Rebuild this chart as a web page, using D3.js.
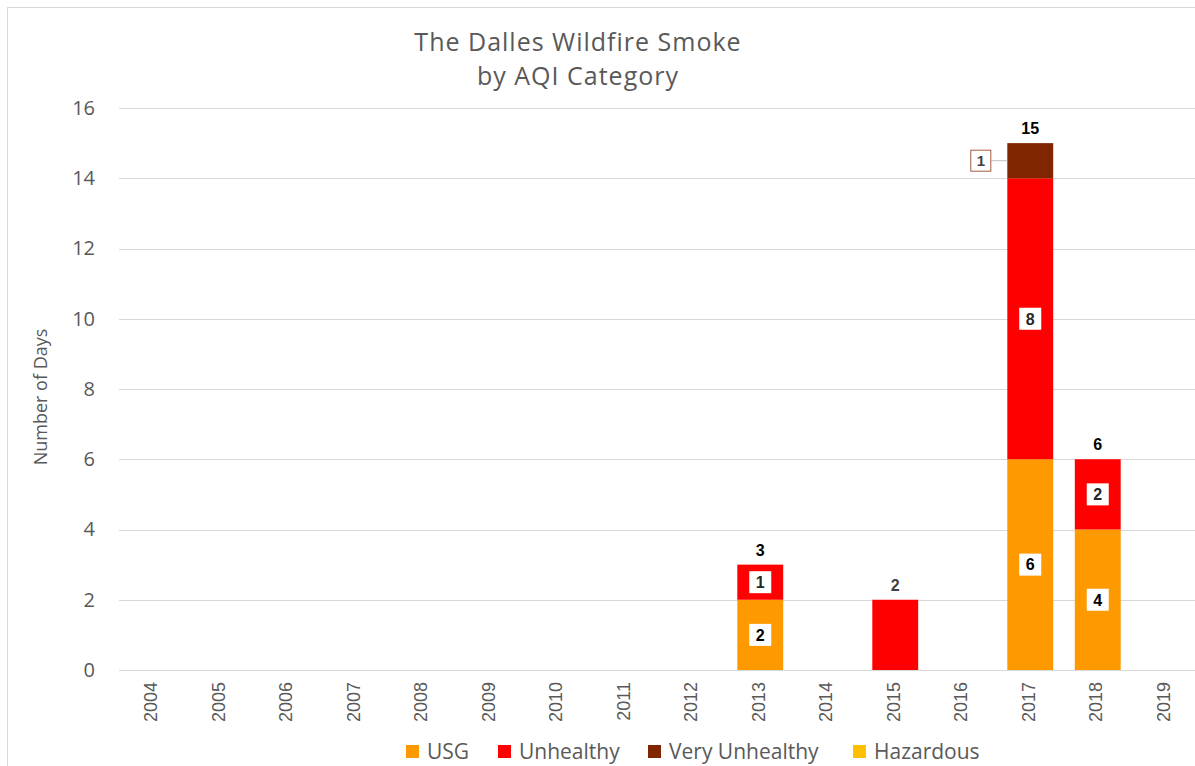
<!DOCTYPE html>
<html>
<head>
<meta charset="utf-8">
<script src="https://cdn.jsdelivr.net/npm/d3@7"></script>
<style>
  body { margin: 0; background: #fff; }
  svg { display: block; }
</style>
</head>
<body>
<script>
// data
var years = ["2004","2005","2006","2007","2008","2009","2010","2011","2012","2013","2014","2015","2016","2017","2018","2019"];
var categories = ["USG", "Unhealthy", "Very Unhealthy", "Hazardous"];
var usg           = [0,0,0,0,0,0,0,0,0,2,0,0,0,6,4,0];
var unhealthy     = [0,0,0,0,0,0,0,0,0,1,0,2,0,8,2,0];
var veryUnhealthy = [0,0,0,0,0,0,0,0,0,0,0,0,0,1,0,0];
var hazardous     = [0,0,0,0,0,0,0,0,0,0,0,0,0,0,0,0];
var yTicks = [0,2,4,6,8,10,12,14,16];
var colors = ["#ff9900", "#ff0000", "#7f2600", "#ffc000"];

var W = 1195, H = 766;
var margin = {top: 108, right: -4, bottom: 96, left: 119};

var rows = years.map((y, i) => ({
    year: y,
    "USG": usg[i],
    "Unhealthy": unhealthy[i],
    "Very Unhealthy": veryUnhealthy[i],
    "Hazardous": hazardous[i]
}));

var svg = d3.select("body").append("svg")
    .attr("width", W)
    .attr("height", H)
    .style("font-family", "'Open Sans', sans-serif");

// chart border
svg.append("rect")
    .attr("x", 7.5).attr("y", 7.5)
    .attr("width", W + 20).attr("height", H + 20)
    .attr("fill", "none")
    .attr("stroke", "#d9d9d9");

var x = d3.scaleBand()
    .domain(years)
    .range([margin.left, W - margin.right])
    .paddingInner(0.32)
    .paddingOuter(0.16);

var y = d3.scaleLinear()
    .domain([0, 16])
    .range([H - margin.bottom, margin.top]);

// gridlines
svg.append("g")
    .selectAll("line")
    .data(yTicks)
    .enter().append("line")
    .attr("x1", margin.left)
    .attr("x2", W - margin.right)
    .attr("y1", d => Math.round(y(d)) + 0.5)
    .attr("y2", d => Math.round(y(d)) + 0.5)
    .attr("stroke", "#d9d9d9")
    .attr("stroke-width", 1);

// y axis labels
var yAxis = svg.append("g")
    .attr("transform", `translate(${margin.left - 24},0)`)
    .call(d3.axisLeft(y).tickValues(yTicks).tickSize(0).tickPadding(0))
    .attr("font-size", 20)
    .attr("font-family", "'Open Sans', sans-serif");
yAxis.select(".domain").remove();
yAxis.selectAll("text")
    .attr("fill", "#595959");

// x axis labels
var xAxis = svg.append("g")
    .attr("transform", `translate(0,${H - margin.bottom})`)
    .call(d3.axisBottom(x).tickSize(0))
    .attr("font-size", 18)
    .attr("font-family", "'Liberation Sans', Arial, sans-serif");
xAxis.select(".domain").remove();
xAxis.selectAll("text")
    .attr("fill", "#595959")
    .attr("text-anchor", "end")
    .attr("dy", "0.35em")
    .attr("transform", "translate(-2,12) rotate(-90)")
    .attr("x", 0).attr("y", 0);

// stacked bars
var stack = d3.stack().keys(categories);
var series = stack(rows);

var layers = svg.append("g")
    .selectAll("g")
    .data(series)
    .enter().append("g")
    .attr("fill", (d, i) => colors[i]);

layers.selectAll("rect")
    .data(d => d.map(p => ({key: d.key, p: p})))
    .enter().append("rect")
    .filter(d => d.p[1] > d.p[0])
    .attr("x", d => x(d.p.data.year))
    .attr("width", x.bandwidth())
    .attr("y", d => y(d.p[1]))
    .attr("height", d => y(d.p[0]) - y(d.p[1]));

// segment labels
var segs = [];
series.forEach((s, si) => {
    s.forEach(p => {
        var v = p[1] - p[0];
        if (v <= 0) return;
        var parts = categories.filter(c => p.data[c] > 0).length;
        if (parts < 2) return;
        segs.push({key: s.key, si: si, v: v, p: p, year: p.data.year});
    });
});

var segG = svg.append("g");
segs.forEach(d => {
    var cx = x(d.year) + x.bandwidth() / 2;
    var cy = (y(d.p[0]) + y(d.p[1])) / 2;
    var small = (y(d.p[0]) - y(d.p[1])) < 40;
    if (small && d.si === 2) {
        // callout to the left of the bar
        var bx = x(d.year) - 16;
        segG.append("line")
            .attr("x1", bx).attr("x2", x(d.year))
            .attr("y1", cy).attr("y2", cy)
            .attr("stroke", "#bfbfbf");
        segG.append("rect")
            .attr("x", bx - 20.5).attr("y", cy - 10.5)
            .attr("width", 20).attr("height", 21)
            .attr("fill", "#fff")
            .attr("stroke", colors[d.si])
            .attr("stroke-opacity", 0.75);
        segG.append("text")
            .attr("x", bx - 10.5).attr("y", cy)
            .attr("dy", "0.36em")
            .attr("text-anchor", "middle")
            .attr("fill", "#404040")
            .style("font-family", "'Liberation Sans', Arial, sans-serif")
            .style("font-weight", "bold")
            .style("font-size", "15px")
            .text(d.v);
    } else {
        segG.append("rect")
            .attr("x", cx - 11).attr("y", cy - 11)
            .attr("width", 22).attr("height", 22)
            .attr("fill", "#fff");
        segG.append("text")
            .attr("x", cx).attr("y", cy)
            .attr("dy", "0.36em")
            .attr("text-anchor", "middle")
            .attr("fill", d.si === 0 ? "#000" : "#262626")
            .style("font-family", "'Liberation Sans', Arial, sans-serif")
            .style("font-weight", "bold")
            .style("font-size", "16px")
            .text(d.v);
    }
});

// totals on top
svg.append("g")
    .selectAll("text")
    .data(rows.filter(r => categories.reduce((a, c) => a + r[c], 0) > 0))
    .enter().append("text")
    .attr("x", d => x(d.year) + x.bandwidth() / 2)
    .attr("y", d => y(categories.reduce((a, c) => a + d[c], 0)) - 9)
    .attr("text-anchor", "middle")
    .attr("fill", d => d.year === "2015" ? "#404040" : "#000")
    .style("font-family", "'Liberation Sans', Arial, sans-serif")
    .style("font-weight", "bold")
    .style("font-size", "16px")
    .text(d => categories.reduce((a, c) => a + d[c], 0));

// title, two lines
var titleLines = ["The Dalles Wildfire Smoke", "by AQI Category"];
svg.append("g")
    .selectAll("text")
    .data(titleLines)
    .enter().append("text")
    .attr("x", 578)
    .attr("y", (d, i) => 51 + i * 34)
    .attr("text-anchor", "middle")
    .attr("fill", "#595959")
    .style("font-size", "25px")
    .style("letter-spacing", "1px")
    .text(d => d);

// y axis title
svg.append("text")
    .attr("transform", "translate(47,397) rotate(-90)")
    .attr("text-anchor", "middle")
    .attr("fill", "#595959")
    .style("font-family", "'Liberation Sans Narrow', 'Open Sans', sans-serif")
    .style("font-size", "18px")
    .text("Number of Days");

// legend
var legendX = [406, 498, 648, 853];
var legend = svg.append("g")
    .selectAll("g")
    .data(categories)
    .enter().append("g")
    .attr("transform", (d, i) => `translate(${legendX[i]},745)`);
legend.append("rect")
    .attr("width", 13).attr("height", 13)
    .attr("fill", (d, i) => colors[i]);
legend.append("text")
    .attr("x", 21).attr("y", 6.5)
    .attr("dy", "0.36em")
    .attr("fill", "#595959")
    .style("font-size", "21px")
    .text(d => d);
</script>
</body>
</html>
